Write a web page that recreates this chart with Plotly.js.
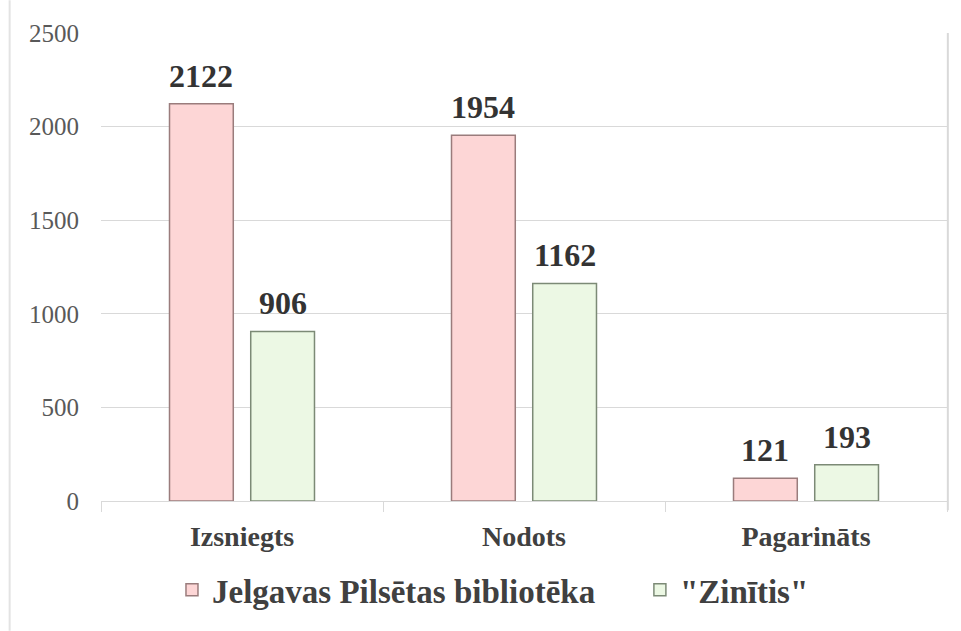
<!DOCTYPE html>
<html>
<head>
<meta charset="utf-8">
<script src="https://cdn.plot.ly/plotly-3.0.1.min.js"></script>
<style>html,body{margin:0;padding:0;background:#fff;}#chart{width:961px;height:631px;}</style>
</head>
<body>
<div id="chart"></div>
<script>
const categories = ["Izsniegts", "Nodots", "Pagarināts"];
const seriesNames = ["Jelgavas Pilsētas bibliotēka", "\"Zinītis\""];
const jelgavaValues = [2122, 1954, 121];
const zinitisValues = [906, 1162, 193];
const yTickValues = [0, 500, 1000, 1500, 2000, 2500];

const serif = "Liberation Serif, Times New Roman, serif";

function barTrace(name, values, fill, edge, legendId) {
  return {
    type: "bar",
    name: name,
    x: categories,
    y: values,
    legend: legendId,
    marker: {color: fill, line: {color: edge, width: 1.5}},
    hoverinfo: "skip"
  };
}

const data = [
  barTrace(seriesNames[0], jelgavaValues, "#fdd6d6", "#9a7c7c", "legend"),
  barTrace(seriesNames[1], zinitisValues, "#ecf8e4", "#7c8a76", "legend2")
];

function labelAnnotations(values, shift) {
  return values.map((v, i) => ({
    x: categories[i], y: v, xref: "x", yref: "y",
    text: "<b>" + v + "</b>",
    showarrow: false,
    xanchor: "center", yanchor: "bottom",
    xshift: shift, yshift: 8,
    font: {family: serif, size: 32, color: "#333333"}
  }));
}

function legendStyle(xPos) {
  return {
    orientation: "h",
    x: xPos, xanchor: "left",
    y: -0.13, yanchor: "top",
    font: {family: serif, size: 33, color: "#404040", weight: "bold"},
    itemwidth: 30,
    bgcolor: "rgba(0,0,0,0)"
  };
}

const layout = {
  width: 961, height: 631,
  margin: {l: 101, r: 14, t: 33, b: 130},
  paper_bgcolor: "#ffffff",
  plot_bgcolor: "#ffffff",
  barmode: "group",
  bargap: 0.424,
  bargroupgap: 0.215,
  showlegend: true,
  legend: legendStyle(0.0839),
  legend2: legendStyle(0.637),
  xaxis: {
    type: "category",
    tickson: "boundaries",
    ticks: "outside",
    ticklen: 10,
    tickcolor: "#d9d9d9",
    showline: true,
    linecolor: "#d9d9d9",
    linewidth: 1,
    tickfont: {family: serif, size: 28, color: "#404040", weight: "bold"},
    ticklabelstandoff: 10,
    showgrid: false,
    fixedrange: true
  },
  yaxis: {
    range: [0, 2500],
    tickvals: yTickValues,
    ticktext: yTickValues.map(String),
    showgrid: true,
    gridcolor: "#d9d9d9",
    gridwidth: 1,
    zeroline: false,
    showline: false,
    ticks: "",
    tickfont: {family: serif, size: 25, color: "#595959"},
    ticklabelstandoff: 21,
    fixedrange: true
  },
  annotations: labelAnnotations(jelgavaValues, -40.75).concat(labelAnnotations(zinitisValues, 40.75)),
  shapes: [
    {type: "line", xref: "paper", yref: "paper", x0: 1.001, x1: 1.001, y0: 1, y1: -0.02,
     line: {color: "#d9d9d9", width: 2}},
    {type: "line", xref: "paper", yref: "paper", x0: -0.108, x1: -0.108, y0: 1.07, y1: -0.277,
     line: {color: "#e3e3e3", width: 2}}
  ]
};

Plotly.newPlot("chart", data, layout, {displayModeBar: false, staticPlot: true});
</script>
</body>
</html>
